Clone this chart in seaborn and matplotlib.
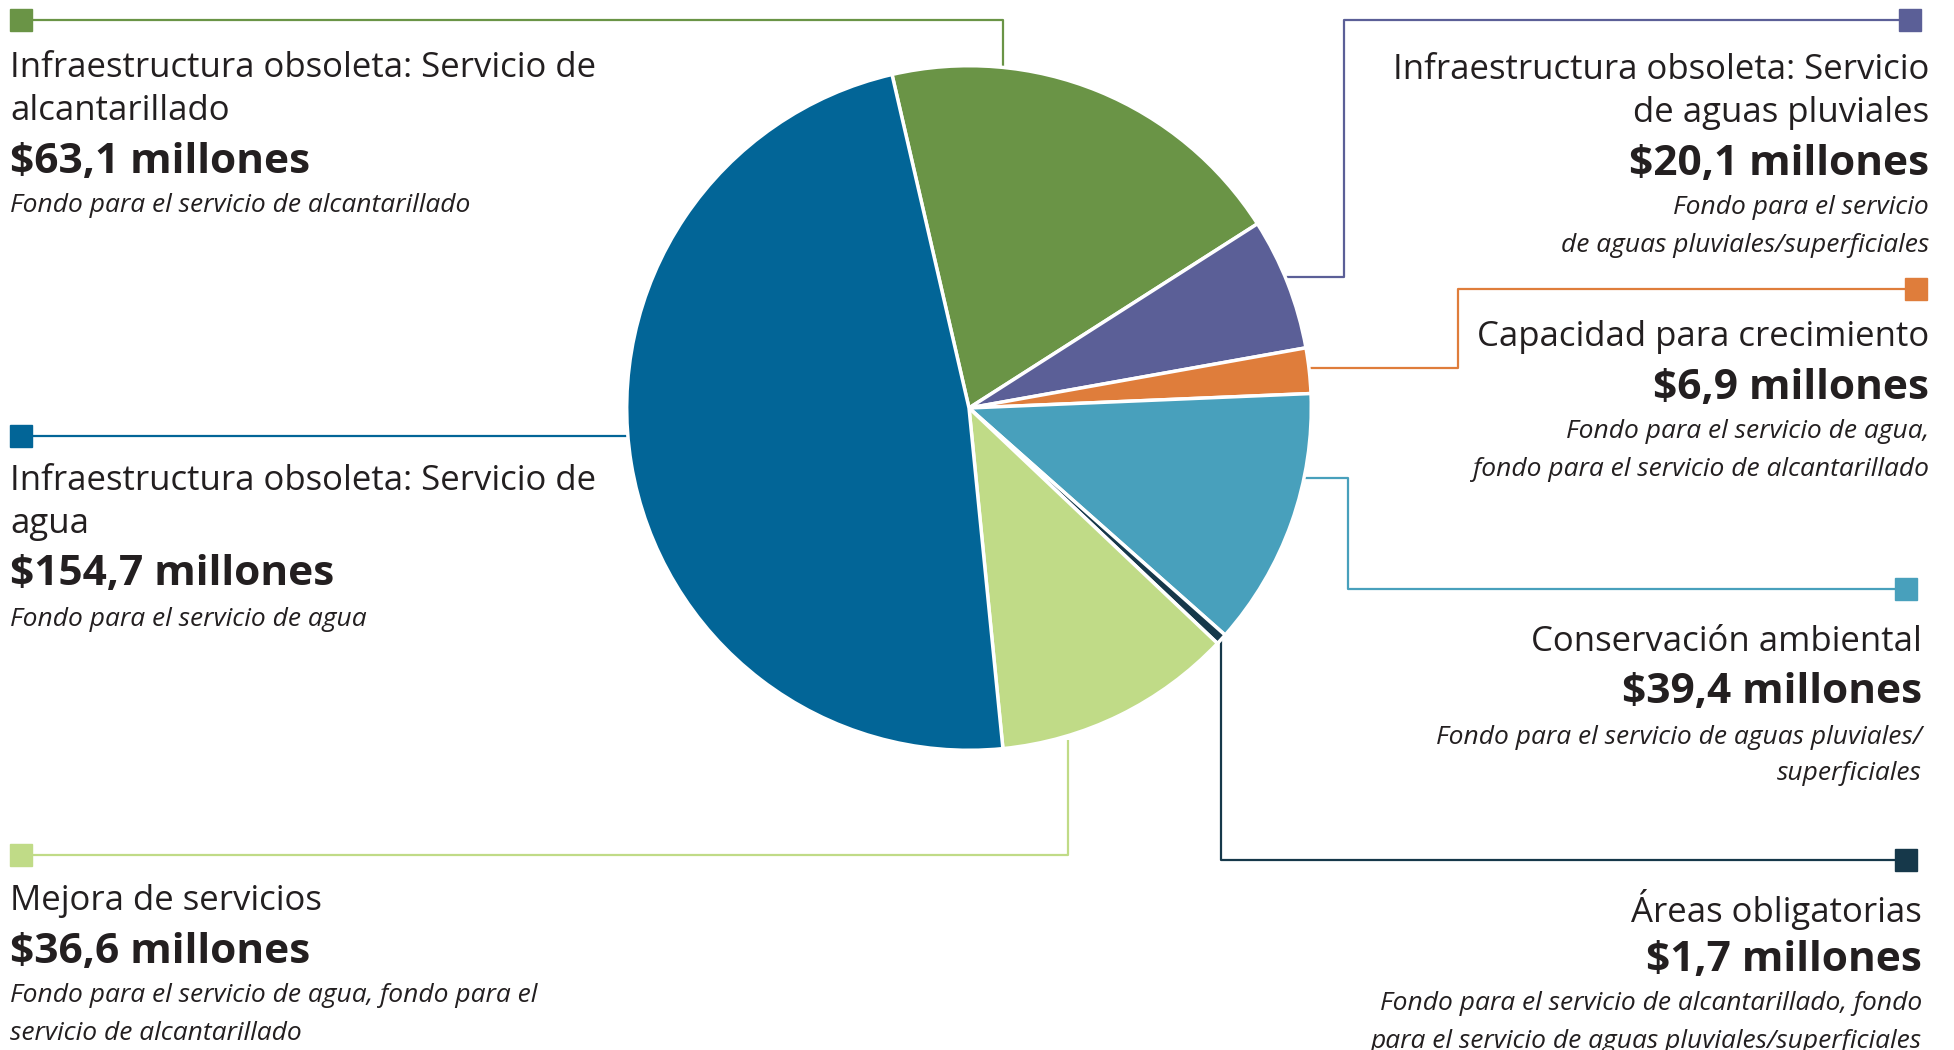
import matplotlib
matplotlib.use("Agg")
import matplotlib.pyplot as plt
from matplotlib.patches import Rectangle
import seaborn as sns

# slices, clockwise from the top-left of the pie
categories = ["Infraestructura obsoleta: Servicio de alcantarillado",
              "Infraestructura obsoleta: Servicio de aguas pluviales",
              "Capacidad para crecimiento",
              "Conservación ambiental",
              "Áreas obligatorias",
              "Mejora de servicios",
              "Infraestructura obsoleta: Servicio de agua"]
values = [63.1, 20.1, 6.9, 39.4, 1.7, 36.6, 154.7]
amounts = ["$63,1 millones", "$20,1 millones", "$6,9 millones", "$39,4 millones",
           "$1,7 millones", "$36,6 millones", "$154,7 millones"]
title_lines = [["Infraestructura obsoleta: Servicio de", "alcantarillado"],
               ["Infraestructura obsoleta: Servicio", "de aguas pluviales"],
               ["Capacidad para crecimiento"],
               ["Conservación ambiental"],
               ["Áreas obligatorias"],
               ["Mejora de servicios"],
               ["Infraestructura obsoleta: Servicio de", "agua"]]
fund_lines = [["Fondo para el servicio de alcantarillado"],
              ["Fondo para el servicio", "de aguas pluviales/superficiales"],
              ["Fondo para el servicio de agua,", "fondo para el servicio de alcantarillado"],
              ["Fondo para el servicio de aguas pluviales/", "superficiales"],
              ["Fondo para el servicio de alcantarillado, fondo",
               "para el servicio de aguas pluviales/superficiales"],
              ["Fondo para el servicio de agua, fondo para el", "servicio de alcantarillado"],
              ["Fondo para el servicio de agua"]]
colors = ["#6A9446", "#5B5F97", "#DF7D3B", "#48A0BC", "#16384A", "#C0DB87", "#026597"]

sns.set_theme(style="white")
plt.rcParams['font.family'] = ['Open Sans', 'DejaVu Sans']
palette = sns.color_palette(colors)
TXT = "#231F20"

W, H = 1954, 1050
fig = plt.figure(figsize=(W / 100, H / 100), dpi=100)
fig.patch.set_facecolor("white")

# overlay in pixel coordinates for leaders and labels
ov = fig.add_axes([0, 0, 1, 1])
ov.set_xlim(0, W)
ov.set_ylim(H, 0)
ov.axis("off")

# pie
cx, cy, r = 969, 408, 344
pax = fig.add_axes([(cx - r) / W, (H - cy - r) / H, 2 * r / W, 2 * r / H])
pax.pie(values, colors=palette, startangle=103, counterclock=False,
        wedgeprops=dict(edgecolor="white", linewidth=2.5))
pax.set_xlim(-1.005, 1.005)
pax.set_ylim(-1.005, 1.005)
pax.patch.set_alpha(0)

# leader paths (pixel layout), square marker at first point
leaders = [
    [(21, 20), (1003, 20), (1003, 75)],
    [(1910, 20), (1344, 20), (1344, 277), (1270, 277)],
    [(1916, 289), (1458, 289), (1458, 368), (1300, 368)],
    [(1906, 589), (1348, 589), (1348, 478), (1300, 478)],
    [(1906, 860), (1221, 860), (1221, 635)],
    [(21, 855), (1068, 855), (1068, 740)],
    [(21, 436), (660, 436)],
]
# text anchor: x, alignment, y centre of first line
blocks = [
    (10, "left", 68),
    (1929, "right", 70),
    (1929, "right", 337),
    (1922, "right", 642),
    (1922, "right", 909),
    (10, "left", 901),
    (10, "left", 481),
]

for i in range(len(values)):
    pts = leaders[i]
    ov.plot([p[0] for p in pts], [p[1] for p in pts], color=colors[i], lw=1.6,
            solid_capstyle="butt", zorder=1)
    sq = 22
    ov.add_patch(Rectangle((pts[0][0] - sq / 2, pts[0][1] - sq / 2), sq, sq,
                           color=colors[i], zorder=2))
    x, ha, y = blocks[i]
    for line in title_lines[i]:
        ov.text(x, y, line, ha=ha, va="center", fontsize=25, color=TXT)
        y += 43
    y += 8
    ov.text(x, y, amounts[i], ha=ha, va="center", fontsize=30.5, fontweight="bold", color=TXT)
    y += 44
    for line in fund_lines[i]:
        ov.text(x, y, line, ha=ha, va="center", fontsize=19, fontstyle="italic", color=TXT)
        y += 37

fig.savefig("out.png", dpi=100, facecolor="white")
